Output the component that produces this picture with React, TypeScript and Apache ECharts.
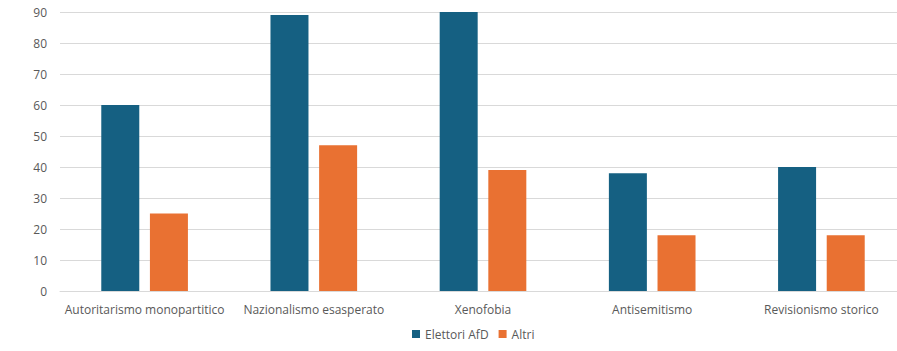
import React, { useEffect, useRef } from "react";
import * as echarts from "echarts";

const categories = [
  "Autoritarismo monopartitico",
  "Nazionalismo esasperato",
  "Xenofobia",
  "Antisemitismo",
  "Revisionismo storico",
];
const afdValues = [60, 89, 90, 38, 40];
const altriValues = [25, 47, 39, 18, 18];
const seriesNames = ["Elettori AfD", "Altri"];

const FONT = "'Open Sans', 'Noto Sans', sans-serif";

export default function App() {
  const ref = useRef<HTMLDivElement>(null);
  useEffect(() => {
    if (!ref.current) return;
    const chart = echarts.init(ref.current, undefined, { renderer: "svg" });
    chart.setOption({
      animation: false,
      textStyle: { fontFamily: FONT },
      grid: {
        left: 60,
        width: 846,
        top: 12,
        height: 279,
        containLabel: false,
        outerBoundsMode: "none",
      },
      legend: {
        data: seriesNames,
        bottom: 6,
        left: 407,
        icon: "rect",
        itemWidth: 8,
        itemHeight: 8,
        itemGap: 10,
        textStyle: { color: "#595959", fontSize: 12, fontFamily: FONT },
      },
      xAxis: {
        type: "category",
        data: categories,
        axisLine: { lineStyle: { color: "#d9d9d9" } },
        axisTick: { show: false },
        axisLabel: { color: "#595959", fontSize: 12, margin: 12, interval: 0, fontFamily: FONT },
      },
      yAxis: {
        type: "value",
        min: 0,
        max: 90,
        interval: 10,
        axisLine: { show: false },
        axisTick: { show: false },
        splitLine: { lineStyle: { color: "#d9d9d9", width: 1 } },
        axisLabel: { color: "#595959", fontSize: 12, margin: 13, fontFamily: FONT },
      },
      series: [
        {
          name: seriesNames[0],
          type: "bar",
          data: afdValues,
          barWidth: 38,
          barGap: "28%",
          itemStyle: { color: "#156082" },
        },
        {
          name: seriesNames[1],
          type: "bar",
          data: altriValues,
          barWidth: 38,
          itemStyle: { color: "#E97132" },
        },
      ],
    });
    return () => chart.dispose();
  }, []);
  return <div ref={ref} style={{ width: 897, height: 351, position: "absolute", left: 0, top: 0 }} />;
}
